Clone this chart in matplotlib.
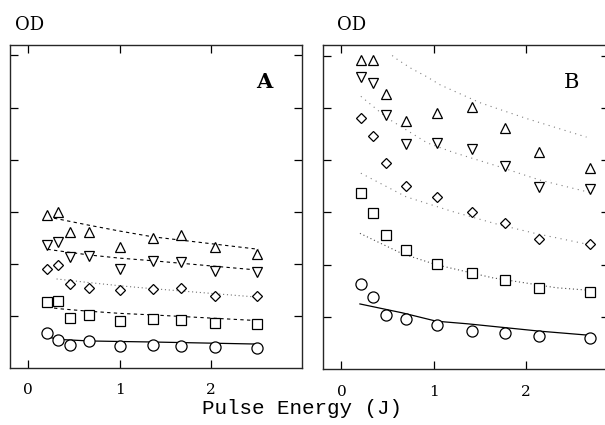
import matplotlib
matplotlib.use('Agg')
import matplotlib.pyplot as plt

plt.rcParams['font.family'] = 'DejaVu Serif'

# panel A data (OD in tick units, energy in J)
xa = [0.21, 0.33, 0.46, 0.67, 1.01, 1.37, 1.67, 2.05, 2.50]
a_up = [2.94, 2.99, 2.61, 2.62, 2.32, 2.49, 2.56, 2.32, 2.19]
a_down = [2.37, 2.41, 2.13, 2.15, 1.90, 2.05, 2.04, 1.87, 1.85]
a_diam = [1.90, 1.97, 1.62, 1.53, 1.49, 1.51, 1.53, 1.39, 1.38]
a_sq = [1.26, 1.28, 0.97, 1.01, 0.91, 0.94, 0.92, 0.86, 0.84]
a_circ = [0.67, 0.54, 0.44, 0.51, 0.42, 0.44, 0.42, 0.41, 0.38]

# panel A fit curves
fa_x = [0.21, 0.33, 0.67, 1.0, 1.36, 2.52]
fa_up = [2.90, 2.86, 2.74, 2.63, 2.52, 2.28]
fa_down = [2.28, 2.25, 2.17, 2.11, 2.06, 1.88]
fa_diam_x = [0.31, 0.67, 1.0, 1.25, 2.52]
fa_diam = [1.71, 1.64, 1.58, 1.54, 1.36]
fa_sq = [1.17, 1.14, 1.09, 1.05, 1.02, 0.91]
fa_circ = [0.60, 0.55, 0.52, 0.51, 0.50, 0.46]

# panel B data
xb = [0.21, 0.34, 0.48, 0.70, 1.04, 1.42, 1.78, 2.14, 2.70]
b_up = [5.92, 5.92, 5.26, 4.74, 4.90, 5.01, 4.61, 4.16, 3.85]
b_down = [5.59, 5.48, 4.87, 4.31, 4.32, 4.21, 3.88, 3.48, 3.44]
b_diam = [4.81, 4.46, 3.94, 3.51, 3.29, 3.01, 2.79, 2.49, 2.40]
b_sq = [3.37, 2.99, 2.57, 2.29, 2.01, 1.85, 1.71, 1.56, 1.48]
b_circ = [1.63, 1.39, 1.03, 0.97, 0.85, 0.73, 0.70, 0.63, 0.59]

# panel B fit curves
fb_up_x = [0.55, 0.61, 0.76, 0.92, 1.07, 1.50, 2.0, 2.66]
fb_up = [6.0, 5.92, 5.75, 5.60, 5.44, 5.10, 4.80, 4.44]
fb_down_x = [0.21, 0.5, 0.93, 1.21, 1.41, 1.72, 2.15, 2.70]
fb_down = [5.22, 4.80, 4.33, 4.15, 4.04, 3.87, 3.62, 3.38]
fb_diam_x = [0.21, 0.7, 1.2, 1.7, 2.1, 2.7]
fb_diam = [3.75, 3.30, 3.02, 2.77, 2.60, 2.38]
fb_sq_x = [0.20, 0.66, 1.03, 1.37, 1.64, 2.33, 2.70]
fb_sq = [2.60, 2.21, 2.00, 1.86, 1.75, 1.56, 1.51]
fb_circ_x = [0.20, 0.66, 1.03, 1.37, 2.15, 2.70]
fb_circ = [1.25, 1.08, 0.92, 0.87, 0.73, 0.65]

fig = plt.figure(figsize=(6.05, 4.25), dpi=100)
axA = fig.add_axes([0.0165, 0.134, 0.483, 0.76])
axB = fig.add_axes([0.534, 0.131, 0.472, 0.763])

mk = dict(mfc='white', mec='black', mew=0.9, ms=7, ls='none')
dash = (0, (3, 3))
dot = (0, (1, 2.5))
sparse = (0, (1, 4))

axA.plot(fa_x, fa_up, color='black', lw=0.8, ls=dash)
axA.plot(fa_x, fa_down, color='black', lw=0.8, ls=dash)
axA.plot(fa_diam_x, fa_diam, color='0.45', lw=0.8, ls=dot)
axA.plot(fa_x, fa_sq, color='black', lw=0.8, ls=dash)
axA.plot(fa_x, fa_circ, color='black', lw=0.9)
axA.plot(xa, a_up, marker='^', **mk)
axA.plot(xa, a_down, marker='v', **mk)
axA.plot(xa, a_diam, marker='D', **dict(mk, ms=5.5))
axA.plot(xa, a_sq, marker='s', **dict(mk, ms=6.5))
axA.plot(xa, a_circ, marker='o', **dict(mk, ms=8))

axB.plot(fb_up_x, fb_up, color='0.5', lw=0.8, ls=sparse)
axB.plot(fb_down_x, fb_down, color='0.5', lw=0.8, ls=sparse)
axB.plot(fb_diam_x, fb_diam, color='0.5', lw=0.8, ls=sparse)
axB.plot(fb_sq_x, fb_sq, color='0.3', lw=0.8, ls=dot)
axB.plot(fb_circ_x, fb_circ, color='black', lw=0.9)
axB.plot(xb, b_up, marker='^', **dict(mk, ms=6.5))
axB.plot(xb, b_down, marker='v', **dict(mk, ms=6.5))
axB.plot(xb, b_diam, marker='D', **dict(mk, ms=5.5))
axB.plot(xb, b_sq, marker='s', **dict(mk, ms=6.5))
axB.plot(xb, b_circ, marker='o', **dict(mk, ms=8))

for ax, xmax, lab in [(axA, 3.0, 'A'), (axB, 2.9, 'B')]:
    ax.set_xlim(-0.2, xmax)
    ax.set_ylim(0, 6.2)
    ax.set_xticks([0, 1, 2])
    ax.set_yticks([1, 2, 3, 4, 5, 6])
    ax.set_yticklabels([])
    ax.tick_params(direction='in', length=6, width=0.9, top=True, right=True,
                   labelsize=11, pad=11)
    for s in ax.spines.values():
        s.set_linewidth(1.0)
        s.set_color('0.15')
    ax.text(0.87, 0.885, lab, transform=ax.transAxes, fontsize=15,
            fontweight='bold' if lab == 'A' else 'normal', ha='center', va='center')

fig.text(0.025, 0.94, 'OD', fontsize=13, va='center')
fig.text(0.557, 0.94, 'OD', fontsize=13, va='center')
fig.text(0.5, 0.04, 'Pulse Energy (J)', fontsize=15, ha='center', va='center',
         family='Liberation Mono')

fig.savefig('out.png', dpi=100)
